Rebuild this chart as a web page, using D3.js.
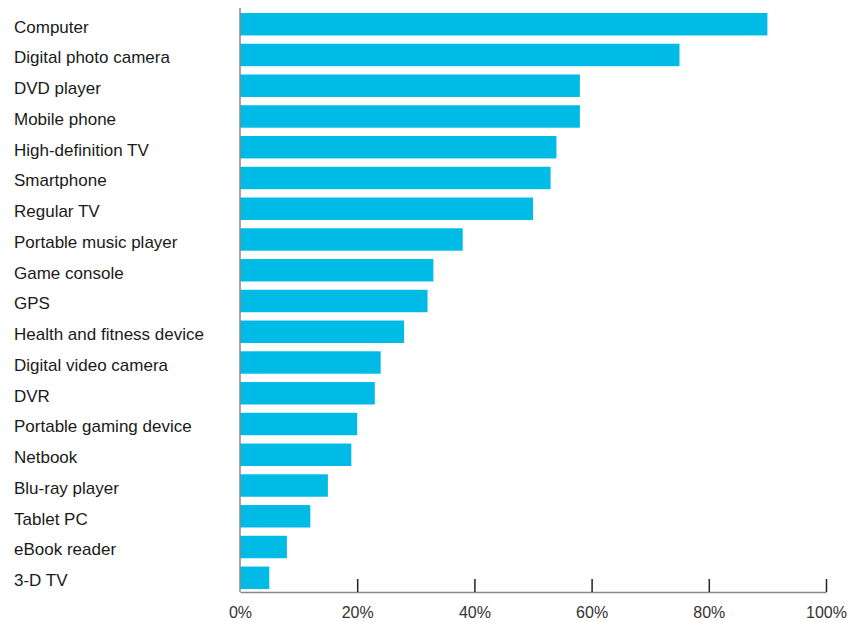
<!DOCTYPE html>
<html>
<head>
<meta charset="utf-8">
<script src="https://cdn.jsdelivr.net/npm/d3@7"></script>
<style>
  body { margin: 0; background: #fff; }
  .label { font-family: "Liberation Sans", Arial, sans-serif; font-size: 17px; fill: #1a1a1a; }
  .tick text { font-family: "Liberation Sans", Arial, sans-serif; font-size: 16px; fill: #333; }
</style>
</head>
<body>
<div id="chart"></div>
<script>
// data
var devices = ["Computer", "Digital photo camera", "DVD player", "Mobile phone",
  "High-definition TV", "Smartphone", "Regular TV", "Portable music player",
  "Game console", "GPS", "Health and fitness device", "Digital video camera",
  "DVR", "Portable gaming device", "Netbook", "Blu-ray player", "Tablet PC",
  "eBook reader", "3-D TV"];
var shares = [90, 75, 58, 58, 54, 53, 50, 38, 33, 32, 28, 24, 23, 20, 19, 15, 12, 8, 5];
var tickValues = [0, 20, 40, 60, 80, 100];

// chart frame
var width = 852, height = 622;
var plot = {left: 240, right: 826, top: 13, bottom: 589, axis: 592};

var svg = d3.select("#chart").append("svg")
    .attr("width", width)
    .attr("height", height);

var x = d3.scaleLinear()
    .domain([0, 100])
    .range([plot.left, plot.right]);

var y = d3.scaleBand()
    .domain(devices)
    .range([plot.top, plot.bottom])
    .paddingInner(0.27)
    .paddingOuter(0);

// bars
svg.selectAll(".bar")
    .data(devices)
  .enter().append("rect")
    .attr("class", "bar")
    .attr("x", x(0))
    .attr("y", function(d) { return y(d); })
    .attr("width", function(d, i) { return x(shares[i]) - x(0); })
    .attr("height", y.bandwidth())
    .style("fill", "#00bbe6");

// category labels (sit a little below the bar centre)
svg.selectAll(".label")
    .data(devices)
  .enter().append("text")
    .attr("class", "label")
    .attr("x", 14)
    .attr("y", function(d) { return y(d) + y.bandwidth() / 2 + 2.5; })
    .attr("dy", "0.35em")
    .text(function(d) { return d; });

// vertical axis line
svg.append("line")
    .attr("x1", x(0)).attr("x2", x(0))
    .attr("y1", 8).attr("y2", plot.axis)
    .attr("stroke", "#888")
    .attr("stroke-width", 1.5);

// bottom axis, ticks pointing up
var xAxis = svg.append("g")
    .attr("transform", "translate(0," + plot.axis + ")")
    .call(d3.axisBottom(x)
      .tickValues(tickValues)
      .tickSizeInner(-13)
      .tickSizeOuter(0)
      .tickPadding(0)
      .tickFormat(function(d) { return d + "%"; }));

xAxis.select(".domain")
    .attr("stroke", "#888")
    .attr("stroke-width", 1.5);
xAxis.selectAll(".tick line")
    .attr("stroke", "#222")
    .attr("stroke-width", 1.5)
    .filter(function(d) { return d === 0; })
    .remove();
xAxis.selectAll(".tick text")
    .attr("y", 20)
    .attr("dy", "0.35em");
</script>
</body>
</html>
